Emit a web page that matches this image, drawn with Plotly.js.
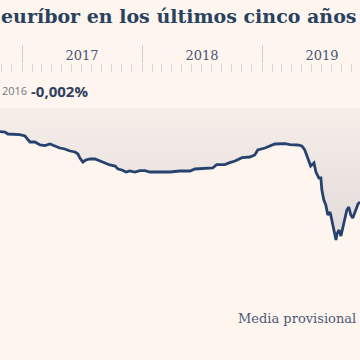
<!DOCTYPE html>
<html>
<head>
<meta charset="utf-8">
<script src="https://cdn.plot.ly/plotly-3.0.1.min.js"></script>
<style>html,body{margin:0;padding:0;background:#fdf5ee;}#chart{width:360px;height:360px;}</style>
</head>
<body>
<div id="chart"></div>
<script>
const dates = ['2016-10-26','2016-11-10','2016-11-19','2016-12-25',
'2017-01-10','2017-01-25','2017-02-09','2017-02-25','2017-03-12','2017-03-27','2017-04-11','2017-04-26','2017-05-11','2017-05-27','2017-06-11','2017-06-20','2017-06-26','2017-07-05','2017-07-14','2017-07-27','2017-08-11','2017-08-26','2017-09-10','2017-09-25','2017-10-11','2017-10-20','2017-11-01','2017-11-13','2017-11-25','2017-12-10','2017-12-26',
'2018-01-10','2018-01-25','2018-02-25','2018-03-27','2018-04-26','2018-05-27','2018-06-11','2018-07-11','2018-08-04','2018-08-16','2018-09-10','2018-09-25','2018-10-11','2018-11-01','2018-11-25','2018-12-10','2018-12-19',
'2019-01-10','2019-01-25','2019-02-09','2019-03-12','2019-03-27','2019-04-20','2019-05-02','2019-05-11','2019-05-20','2019-05-29','2019-06-08','2019-06-14','2019-06-23','2019-06-29','2019-07-02','2019-07-08','2019-07-14','2019-07-20','2019-07-27','2019-08-01','2019-08-08','2019-08-14','2019-08-17','2019-08-23','2019-08-29','2019-09-04','2019-09-10','2019-09-16','2019-09-22','2019-09-28','2019-10-04','2019-10-11','2019-10-20','2019-10-26'];

const euribor = [-0.071,-0.072,-0.078,-0.080,
-0.084,-0.102,-0.102,-0.111,-0.113,-0.108,-0.114,-0.120,-0.123,-0.129,-0.132,-0.138,-0.150,-0.162,-0.156,-0.153,-0.153,-0.159,-0.165,-0.171,-0.174,-0.183,-0.186,-0.192,-0.189,-0.192,-0.188,
-0.188,-0.192,-0.192,-0.192,-0.189,-0.189,-0.183,-0.182,-0.180,-0.170,-0.170,-0.164,-0.159,-0.149,-0.147,-0.141,-0.126,
-0.120,-0.114,-0.108,-0.107,-0.110,-0.111,-0.114,-0.126,-0.150,-0.174,-0.165,-0.192,-0.210,-0.210,-0.246,-0.276,-0.291,-0.321,-0.312,-0.336,-0.360,-0.396,-0.378,-0.366,-0.384,-0.360,-0.333,-0.306,-0.297,-0.321,-0.330,-0.312,-0.288,-0.282];

const titleText = 'euríbor en los últimos cinco años';
const headerDate = '2016';
const headerValue = '-0,002%';
const footText = 'Media provisional';

const xRange = ['2016-10-26', '2019-10-26'];

const traces = [
  {
    x: dates, y: euribor, type: 'scatter', mode: 'lines',
    line: {color: '#27426e', width: 2.8},
    fill: 'tozeroy',
    fillgradient: {type: 'vertical', start: -0.4, stop: 0,
      colorscale: [[0, '#e0dad9'], [1, '#f7eee9']]},
    hoverinfo: 'skip', showlegend: false
  },
  {
    x: dates, y: euribor, type: 'scatter', mode: 'lines', xaxis: 'x2',
    line: {width: 0, color: 'rgba(0,0,0,0)'}, hoverinfo: 'skip', showlegend: false
  }
];

const layout = {
  width: 360, height: 360,
  margin: {l: 0, r: 0, t: 64, b: 60},
  paper_bgcolor: '#fdf5ee', plot_bgcolor: '#fdf5ee',
  showlegend: false,
  xaxis: {
    type: 'date', range: xRange, side: 'top',
    showgrid: false, zeroline: false, showline: false,
    ticks: 'outside', ticklen: 18, tickwidth: 1, tickcolor: '#d8cec9',
    dtick: 'M12', tick0: '2017-01-01', showticklabels: false,
    minor: {dtick: 'M1', tick0: '2017-01-01', ticks: 'inside', ticklen: 8, tickwidth: 1, tickcolor: '#ded3cd', showgrid: false}
  },
  xaxis2: {
    type: 'date', range: xRange, overlaying: 'x', side: 'top', anchor: 'y',
    showgrid: false, zeroline: false, showline: false, ticks: '',
    dtick: 'M12', tick0: '2017-01-01', ticklabelmode: 'period', tickformat: '%Y',
    tickfont: {family: 'DejaVu Serif', size: 13, color: '#4a5673'}
  },
  yaxis: {
    range: [-0.576, 0.132], showgrid: false, showticklabels: false, ticks: '',
    zeroline: true, zerolinecolor: '#e4d9d3', zerolinewidth: 1, fixedrange: true
  },
  annotations: [
    {text: titleText, xref: 'paper', yref: 'paper', x: -0.002, y: 1.205, xanchor: 'left', yanchor: 'middle', showarrow: false,
     font: {family: 'DejaVu Serif', size: 19, color: '#29425f', weight: 700}},
    {text: headerDate, xref: 'paper', yref: 'paper', x: 0.0, y: 0.886, xanchor: 'left', yanchor: 'middle', showarrow: false,
     font: {family: 'Open Sans', size: 11, color: '#777780'}},
    {text: '<b>' + headerValue + '</b>', xref: 'paper', yref: 'paper', x: 0.08, y: 0.886, xanchor: 'left', yanchor: 'middle', showarrow: false,
     font: {family: 'Open Sans', size: 15, color: '#2e3f60'}},
    {text: footText, xref: 'paper', yref: 'paper', x: 0.995, y: -0.08, xanchor: 'right', yanchor: 'middle', showarrow: false,
     font: {family: 'DejaVu Serif', size: 13, color: '#4d5a77'}}
  ]
};

Plotly.newPlot('chart', traces, layout, {displayModeBar: false, staticPlot: true});
</script>
</body>
</html>
